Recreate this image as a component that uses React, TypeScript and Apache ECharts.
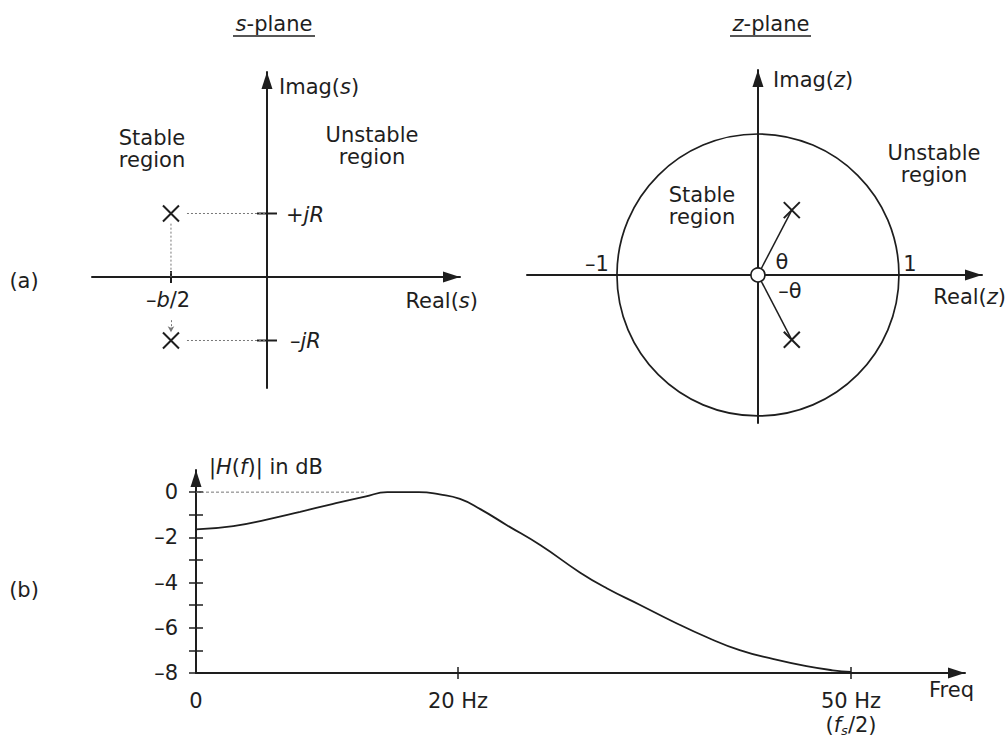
import React, { useEffect, useRef } from "react";
import * as echarts from "echarts";

// ---------- data ----------
// s-plane (units of the drawing)
const sPoles = [[-1.5, 1], [-1.5, -1]];
const sImagTicks = [[0, 1], [0, -1]];
const sRealTicks = [[-1.5, 0]];
const sGuideUpper = [[-1.25, 1], [0, 1]];
const sGuideLower = [[-1.25, -1], [0, -1]];
const sGuideVertical = [[-1.5, 0.84], [-1.5, 0]];
const sGuideArrow = [[-1.5, -0.68], [-1.5, -0.87]];

// z-plane
const zUnitCircle = [[0, 0, 1]]; // centre x, centre y, radius
const zPoles = [[0.24, 0.46], [0.24, -0.46]];
const zOrigin = [[0, 0]];
const zRayUpper = [[0, 0], [0.24, 0.46]];
const zRayLower = [[0, 0], [0.24, -0.46]];

// |H(f)| in dB
const freqHz = [0, 2.85, 5.4, 7.95, 10.4, 12.9, 14.6, 17.0, 18.6, 20.15, 21.7, 23.7, 26.3, 29.3, 31.35, 33.9, 36.4, 39.0, 41.5, 44.1, 46.6, 48.6, 50];
const magDb = [-1.65, -1.5, -1.21, -0.87, -0.53, -0.2, 0, 0, -0.1, -0.3, -0.75, -1.45, -2.35, -3.55, -4.25, -4.99, -5.72, -6.42, -6.99, -7.39, -7.7, -7.88, -7.95];
const zeroDbGuide = [[0, 0], [13, 0]];
const yTickValues = [0, -1, -2, -3, -4, -5, -6, -7, -8];
const yLabelValues = [0, -2, -4, -6, -8];
const xTickValues = [20, 50];
const xLabelValues = [0, 20, 50];

// ---------- styles ----------
const FONT = '"DejaVu Sans", "Liberation Sans", sans-serif';
const INK = "#1e1e1e";
const GUIDE = "#777";
const FS = 21;

const RICH: any = {
  n: { fontSize: FS, fontFamily: FONT, fill: INK, color: INK },
  i: { fontSize: FS, fontFamily: FONT, fontStyle: "italic", fill: INK, color: INK },
};

const txt = (x: number, y: number, text: string, align = "left", extra: any = {}) => ({
  type: "text",
  x,
  y,
  silent: true,
  style: {
    text,
    fontSize: FS,
    fontFamily: FONT,
    fill: INK,
    align,
    verticalAlign: "middle",
    lineHeight: 22,
    rich: RICH,
    ...extra,
  },
});

const arrowLine = (onZero = true) => ({
  show: true,
  onZero,
  symbol: ["none", "triangle"],
  symbolSize: [11, 17],
  symbolOffset: [0, -8.5],
  lineStyle: { color: INK, width: 2 },
});

const bareAxis = (gridIndex: number, min: number, max: number) => ({
  type: "value",
  gridIndex,
  min,
  max,
  axisLine: arrowLine(true),
  axisTick: { show: false },
  axisLabel: { show: false },
  splitLine: { show: false },
});

const xMark = "path://M0,0L10,10M10,0L0,10";
const poleStyle = { color: "rgba(0,0,0,0)", borderColor: INK, borderWidth: 2, opacity: 1 };

const option: any = {
  animation: false,
  backgroundColor: "#fff",
  grid: [
    { left: 92, top: 72, width: 368, height: 316 },
    { left: 527, top: 70, width: 455, height: 353 },
    { left: 196, top: 470, width: 769, height: 203 },
  ],
  xAxis: [
    bareAxis(0, -2.734, 3.016),
    bareAxis(1, -1.638, 1.589),
    {
      type: "value",
      gridIndex: 2,
      min: 0,
      max: 58.7,
      axisLine: arrowLine(false),
      axisTick: { show: true, length: 6, customValues: xTickValues, lineStyle: { color: INK, width: 1.5 } },
      axisLabel: {
        show: true,
        customValues: xLabelValues,
        margin: 16,
        fontSize: FS,
        fontFamily: FONT,
        color: INK,
        lineHeight: 24,
        formatter: (v: number) =>
          v === 50 ? "{n|50 Hz}\n{n|(}{i|f}{s|s}{n|/2)}" : v === 0 ? "{n|0}" : "{n|" + v + " Hz}",
        rich: {
          n: { fontSize: FS, fontFamily: FONT, color: INK, lineHeight: 24 },
          i: { fontSize: FS, fontFamily: FONT, fontStyle: "italic", color: INK, lineHeight: 24 },
          s: { fontSize: 13, fontFamily: FONT, fontStyle: "italic", color: INK, lineHeight: 24, verticalAlign: "bottom", padding: [10, 0, 0, 0] },
        },
      },
      splitLine: { show: false },
    },
    {
      type: "value",
      gridIndex: 2,
      position: "bottom",
      min: 0,
      max: 58.7,
      axisLine: { show: false, onZero: false },
      axisTick: { show: true, inside: true, length: 6, customValues: xTickValues, lineStyle: { color: INK, width: 1.5 } },
      axisLabel: { show: false },
      splitLine: { show: false },
    },
  ],
  yAxis: [
    bareAxis(0, -1.748, 3.228),
    bareAxis(1, -1.05, 1.454),
    {
      type: "value",
      gridIndex: 2,
      min: -8,
      max: 0.98,
      axisLine: arrowLine(false),
      axisTick: { show: true, length: 7, customValues: yTickValues, lineStyle: { color: INK, width: 1.5 } },
      axisLabel: {
        show: true,
        customValues: yLabelValues,
        margin: 18,
        fontSize: FS,
        fontFamily: FONT,
        color: INK,
        formatter: (v: number) => String(v).replace("-", "\u2013"),
      },
      splitLine: { show: false },
    },
    {
      type: "value",
      gridIndex: 2,
      position: "left",
      min: -8,
      max: 0.98,
      axisLine: { show: false, onZero: false },
      axisTick: { show: true, inside: true, length: 7, customValues: yTickValues, lineStyle: { color: INK, width: 1.5 } },
      axisLabel: { show: false },
      splitLine: { show: false },
    },
  ],
  series: [
    // ---- s-plane ----
    {
      type: "line", xAxisIndex: 0, yAxisIndex: 0, data: sGuideUpper, symbol: "none",
      lineStyle: { color: GUIDE, width: 1, type: [2, 2] }, silent: true,
    },
    {
      type: "line", xAxisIndex: 0, yAxisIndex: 0, data: sGuideLower, symbol: "none",
      lineStyle: { color: GUIDE, width: 1, type: [2, 2] }, silent: true,
    },
    {
      type: "line", xAxisIndex: 0, yAxisIndex: 0, data: sGuideVertical, symbol: "none",
      lineStyle: { color: GUIDE, width: 1, type: [2, 2] }, silent: true,
      markLine: {
        silent: true,
        symbol: ["none", "arrow"],
        symbolSize: [5, 6],
        label: { show: false },
        lineStyle: { color: GUIDE, width: 1, type: [2, 2] },
        data: [[{ coord: sGuideArrow[0] }, { coord: sGuideArrow[1] }]],
      },
    },
    {
      type: "scatter", xAxisIndex: 0, yAxisIndex: 0, data: sImagTicks, symbol: "rect", symbolSize: [20, 2],
      itemStyle: { color: INK, opacity: 1 }, silent: true,
    },
    {
      type: "scatter", xAxisIndex: 0, yAxisIndex: 0, data: sRealTicks, symbol: "rect", symbolSize: [2, 12],
      itemStyle: { color: INK, opacity: 1 }, silent: true,
    },
    {
      type: "scatter", xAxisIndex: 0, yAxisIndex: 0, data: sPoles, symbol: xMark, symbolSize: 16,
      itemStyle: poleStyle, silent: true,
    },
    // ---- z-plane ----
    {
      type: "custom", xAxisIndex: 1, yAxisIndex: 1, data: zUnitCircle, silent: true, clip: false,
      renderItem: (params: any, api: any) => {
        const c = api.coord([api.value(0), api.value(1)]);
        const r = api.value(2);
        const s = api.size([r, r]);
        return {
          type: "ellipse",
          shape: { cx: c[0], cy: c[1], rx: s[0], ry: s[1] },
          style: { fill: "none", stroke: INK, lineWidth: 1.7 },
        };
      },
    },
    {
      type: "line", xAxisIndex: 1, yAxisIndex: 1, data: zRayUpper, symbol: "none",
      lineStyle: { color: INK, width: 1.5 }, silent: true,
    },
    {
      type: "line", xAxisIndex: 1, yAxisIndex: 1, data: zRayLower, symbol: "none",
      lineStyle: { color: INK, width: 1.5 }, silent: true,
    },
    {
      type: "scatter", xAxisIndex: 1, yAxisIndex: 1, data: zPoles, symbol: xMark, symbolSize: 16,
      itemStyle: poleStyle, silent: true,
    },
    {
      type: "scatter", xAxisIndex: 1, yAxisIndex: 1, data: zOrigin, symbol: "circle", symbolSize: 14, z: 5,
      itemStyle: { color: "#ffffff", borderColor: INK, borderWidth: 1.6, opacity: 1 }, silent: true,
    },
    // ---- |H(f)| ----
    {
      type: "line", xAxisIndex: 2, yAxisIndex: 2, data: zeroDbGuide, symbol: "none",
      lineStyle: { color: GUIDE, width: 1, type: [3, 2] }, silent: true,
    },
    {
      type: "line", xAxisIndex: 2, yAxisIndex: 2, smooth: 0.5,
      data: freqHz.map((f, i) => [f, magDb[i]]), symbol: "none",
      lineStyle: { color: INK, width: 1.8 }, silent: true,
    },
  ],
  graphic: [
    // titles
    txt(274, 24, "{i|s}{n|-plane}", "center"),
    { type: "line", silent: true, shape: { x1: 233, y1: 36, x2: 315, y2: 36 }, style: { stroke: INK, lineWidth: 1.5 } },
    txt(771, 24, "{i|z}{n|-plane}", "center"),
    { type: "line", silent: true, shape: { x1: 730, y1: 36, x2: 811, y2: 36 }, style: { stroke: INK, lineWidth: 1.5 } },
    // s-plane labels
    txt(279, 87, "{n|Imag(}{i|s}{n|)}"),
    txt(152, 149, "Stable\nregion", "center"),
    txt(372, 146, "Unstable\nregion", "center"),
    txt(286, 215, "{n|+}{i|jR}"),
    txt(290, 341, "{n|\u2013}{i|jR}"),
    txt(168, 300, "{n|\u2013}{i|b}{n|/2}", "center"),
    txt(478, 301, "{n|Real(}{i|s}{n|)}", "right"),
    txt(24, 281, "(a)", "center"),
    // z-plane labels
    txt(773, 80, "{n|Imag(}{i|z}{n|)}"),
    txt(702, 206, "Stable\nregion", "center"),
    txt(934, 164, "Unstable\nregion", "center"),
    txt(597, 264, "\u20131", "center"),
    txt(910, 264, "1", "center"),
    txt(782, 262, "\u03b8", "center"),
    txt(790, 291, "\u2013\u03b8", "center"),
    txt(1006, 297, "{n|Real(}{i|z}{n|)}", "right"),
    // response labels
    txt(24, 590, "(b)", "center"),
    txt(209, 467, "{n||}{i|H}{n|(}{i|f}{n|)| in dB}"),
    txt(929, 690, "Freq"),
  ],
};

export default function App() {
  const ref = useRef<HTMLDivElement>(null);
  useEffect(() => {
    if (!ref.current) return;
    const chart = echarts.init(ref.current, null, { renderer: "svg" });
    chart.setOption(option);
    return () => chart.dispose();
  }, []);
  return (
    <div
      ref={ref}
      style={{ position: "absolute", left: 0, top: 0, width: 1008, height: 744, background: "#fff" }}
    />
  );
}
